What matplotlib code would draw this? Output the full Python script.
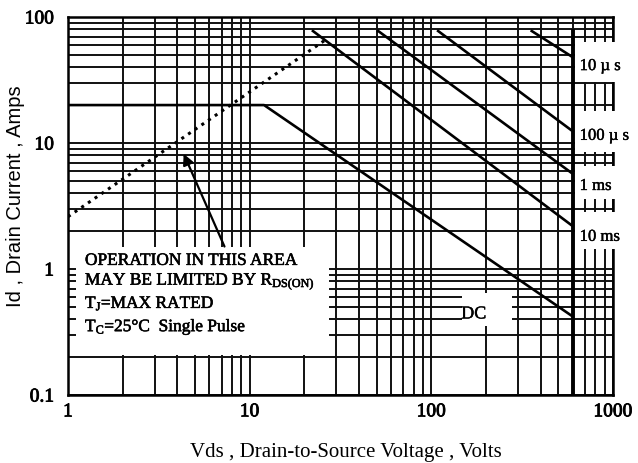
import matplotlib
matplotlib.use("Agg")
import matplotlib.pyplot as plt
import matplotlib.patheffects as pe
from matplotlib.patches import Rectangle
from matplotlib.ticker import LogLocator, NullFormatter, FixedLocator, FixedFormatter

plt.rcParams['font.family'] = ['Liberation Serif', 'DejaVu Serif']
plt.rcParams['mathtext.fontset'] = 'custom'
plt.rcParams['mathtext.rm'] = 'Liberation Serif'
plt.rcParams['mathtext.it'] = 'Liberation Serif'

# safe operating area
v_rds = [1, 27]
i_rds = [2.6, 68]

v_dc = [1, 12, 600]
i_dc = [20, 20, 0.42]

v_10ms = [22.3, 600]
i_10ms = [77.4, 2.19]
v_1ms = [51, 600]
i_1ms = [77.4, 5.7]
v_100us = [109, 600]
i_100us = [77.4, 12.4]
v_10us = [357, 600]
i_10us = [77.4, 48]

vdss = 600
idm = 77.4

x_ticks = [1, 10, 100, 1000]
x_labels = ['1', '10', '100', '1000']
y_ticks = [0.1, 1, 10, 100]
y_labels = ['0.1', '1', '10', '100']

pulse_labels = ['10 µ s', '100 µ s', '1 ms', '10 ms']
pulse_label_y = [40.8, 11.4, 4.56, 1.8]
# white strips behind the labels (I top, I bottom)
pulse_box = [(63.4, 30.5), (17.9, 8.5), (6.56, 3.6), (2.83, 1.44)]

thick = [pe.withStroke(linewidth=0.6, foreground='k')]

fig = plt.figure(figsize=(6.38, 4.64), dpi=100)
ax = fig.add_axes([68/638, 68/464, 545/638, 378/464])
ax.set_xscale('log')
ax.set_yscale('log')
ax.set_xlim(1, 1000)
ax.set_ylim(0.1, 100)

ax.xaxis.set_major_locator(FixedLocator(x_ticks))
ax.xaxis.set_major_formatter(FixedFormatter(x_labels))
ax.yaxis.set_major_locator(FixedLocator(y_ticks))
ax.yaxis.set_major_formatter(FixedFormatter(y_labels))
ax.xaxis.set_minor_locator(LogLocator(base=10, subs=range(2, 10)))
ax.yaxis.set_minor_locator(LogLocator(base=10, subs=range(2, 10)))
ax.xaxis.set_minor_formatter(NullFormatter())
ax.yaxis.set_minor_formatter(NullFormatter())
ax.tick_params(which='both', length=0, labelsize=14)
ax.tick_params(axis='x', pad=6)
ax.tick_params(axis='y', pad=10)
for lab in ax.get_xticklabels() + ax.get_yticklabels():
    lab.set_path_effects(thick)
ax.grid(True, which='both', color='#111111', lw=1.4)
for s in ax.spines.values():
    s.set_linewidth(1.8)

# white backgrounds of the notes
ax.add_patch(Rectangle((1.1, 0.207), 27.3 - 1.1, 1.5 - 0.207, fc='white', ec='none', zorder=2.6))
ax.add_patch(Rectangle((148, 0.35), 277 - 148, 0.65 - 0.35, fc='white', ec='none', zorder=2.6))
for top, bot in pulse_box:
    ax.add_patch(Rectangle((615, bot), 1500 - 615, top - bot, fc='white', ec='none',
                           zorder=2.6, clip_on=False))

ax.plot(v_rds, i_rds, color='k', lw=2.2, ls=':', zorder=3)
ax.plot(v_dc, i_dc, color='k', lw=1.9, zorder=3)
for v, i in [(v_10ms, i_10ms), (v_1ms, i_1ms), (v_100us, i_100us), (v_10us, i_10us)]:
    ax.plot(v, i, color='k', lw=1.9, zorder=3)
ax.plot([vdss, vdss], [0.1, idm], color='k', lw=2.8, zorder=3)

for lab, y in zip(pulse_labels, pulse_label_y):
    ax.text(655, y, lab, fontsize=12, va='center', ha='left', zorder=4, clip_on=False,
            path_effects=[pe.withStroke(linewidth=0.3, foreground='k')])
ax.text(146, 0.44, 'DC', fontsize=13, va='center', ha='left', zorder=4,
        path_effects=[pe.withStroke(linewidth=0.3, foreground='k')])

notes = ['OPERATION IN THIS AREA',
         r'MAY BE LIMITED BY R$_{\mathrm{DS(ON)}}$',
         r'T$_{J}$=MAX RATED',
         r'T$_{C}$=25°C  Single Pulse']
note_y = [1.16, 0.79, 0.53, 0.345]
for t, y in zip(notes, note_y):
    ax.text(1.24, y, t, fontsize=12.5, va='center', ha='left', zorder=4,
            path_effects=[pe.withStroke(linewidth=0.4, foreground='k')])

ax.annotate('', xy=(4.27, 8.6), xytext=(7.37, 1.44),
            arrowprops=dict(arrowstyle='-|>', color='k', lw=1.6, mutation_scale=16),
            zorder=4)

ax.set_xlabel('Vds , Drain-to-Source Voltage , Volts', fontsize=15, va='top')
ax.xaxis.set_label_coords(0.51, -0.124)
ax.set_ylabel('Id , Drain Current , Amps', fontsize=14.5, family='Liberation Sans', va='bottom')
ax.yaxis.set_label_coords(-0.079, 0.529)

fig.savefig('out.png', dpi=100)
